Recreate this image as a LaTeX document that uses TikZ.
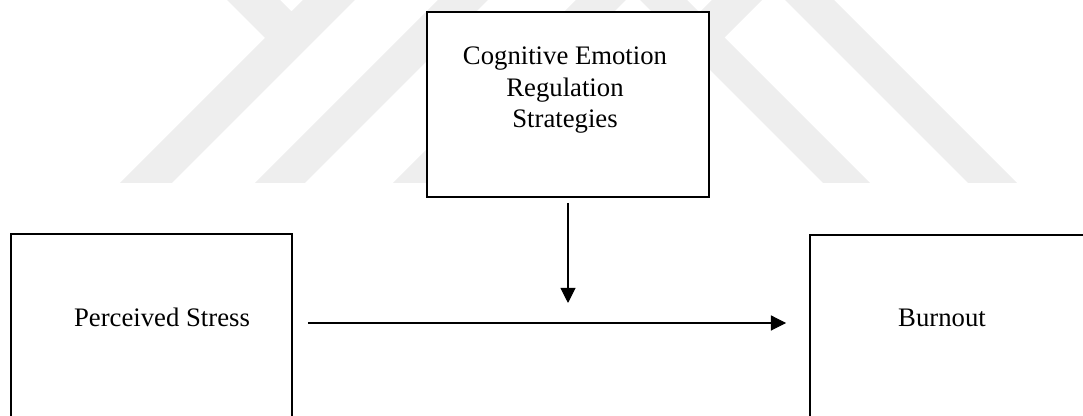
\documentclass[tikz,border=0pt]{standalone}
\usepackage{fontspec}
\setmainfont{Liberation Serif}
\usepackage{xcolor}
\definecolor{colLine}{HTML}{000000}
\definecolor{colMark}{HTML}{EEEEEE}
\usepackage{tikz}
\usetikzlibrary{arrows.meta, positioning}

\tikzset{
  varbox/.style={draw=colLine, line width=1.4pt, fill=white, rectangle, inner sep=0pt},
  varlabel/.style={font=\fontsize{19}{22.4}\selectfont, align=center, inner sep=0pt, text=colLine},
  flow/.style={draw=colLine, line width=0.75pt, -{Triangle[length=0.38cm, width=0.38cm]}},
  wmband/.style={fill=colMark}
}

\begin{document}
\begin{tikzpicture}
        \useasboundingbox (0,0) rectangle (27.075,10.4);
        \clip (0,0) rectangle (27.075,10.4);

        % === Watermark (faint bands) ===
        \fill[wmband] (3.0,5.825) -- (4.3,5.825) -- (8.875,10.4) -- (7.575,10.4)
            -- (7.2875,10.1125) -- (7.0,10.4) -- (5.675,10.4) -- (6.625,9.45) -- cycle;
        \fill[wmband] (6.375,5.825) -- (7.625,5.825) -- (12.2,10.4) -- (10.95,10.4) -- cycle;
        \fill[wmband] (9.825,5.825) -- (11.075,5.825) -- (15.65,10.4) -- (14.4,10.4) -- cycle;
        \fill[wmband] (13.225,5.825) -- (14.475,5.825) -- (19.05,10.4) -- (17.8,10.4) -- cycle;
        \fill[wmband] (20.575,5.825) -- (21.75,5.825) -- (17.175,10.4) -- (16.0,10.4) -- cycle;
        \fill[wmband] (24.2,5.825) -- (25.425,5.825) -- (20.85,10.4) -- (19.625,10.4) -- cycle;

        % === Moderator ===
        \node[varbox, minimum width=7.05cm, minimum height=4.625cm] (cers) at (14.2,7.7875) {};
        \node[varlabel] (cersText) at (14.125,8.14) {Cognitive Emotion\\Regulation\\Strategies};

        % === Predictor / outcome ===
        \node[varbox, minimum width=7.025cm, minimum height=5.55cm] (stress) at (3.7875,1.775) {};
        \node[varlabel, anchor=base] (stressText) at (4.05,2.225) {Perceived Stress};
        \node[varbox, minimum width=8.25cm, minimum height=5.525cm] (burnout) at (24.375,1.7625) {};
        \node[varlabel, anchor=base] (burnoutText) at (23.55,2.225) {Burnout};

        % Frecce
        \coordinate (modTip) at ([yshift=-2.625cm]cers.south);
        \draw[flow] ([yshift=-0.125cm]cers.south) -- (modTip);
        \draw[flow] ([shift={(0.375,0.55)}]stress.east) -- ([shift={(-0.575,0.5625)}]burnout.west);
    \end{tikzpicture}
\end{document}
